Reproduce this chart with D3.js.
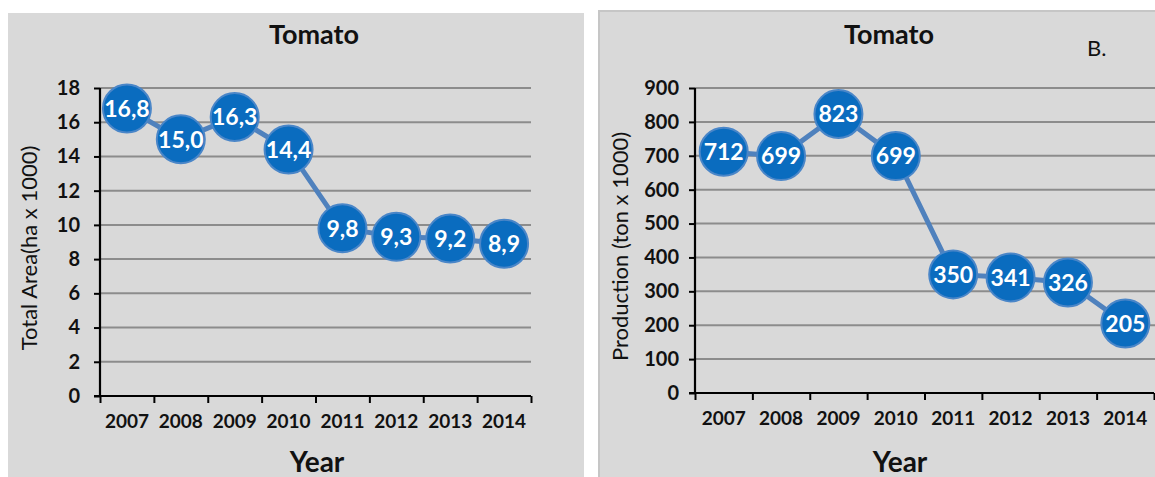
<!DOCTYPE html>
<html>
<head>
<meta charset="utf-8">
<script src="https://cdn.jsdelivr.net/npm/d3@7"></script>
<style>
  html, body { margin: 0; padding: 0; background: #ffffff; }
  svg { display: block; }
  text { font-family: Lato, "Open Sans", sans-serif; }
</style>
</head>
<body>
<svg id="chart" width="1155" height="477"></svg>
<script>
// Tomato: cultivated area and production, 2007–2014
const years = ["2007", "2008", "2009", "2010", "2011", "2012", "2013", "2014"];
const areaValues = [16.8, 15.0, 16.3, 14.4, 9.8, 9.3, 9.2, 8.9];
const productionValues = [712, 699, 823, 699, 350, 341, 326, 205];
const areaTicks = [0, 2, 4, 6, 8, 10, 12, 14, 16, 18];
const productionTicks = [0, 100, 200, 300, 400, 500, 600, 700, 800, 900];

const svg = d3.select("#chart");

function panel(opts) {
  const g = svg.append("g");

  // panel background
  g.append("rect")
    .attr("x", opts.box[0]).attr("y", opts.box[1])
    .attr("width", opts.box[2]).attr("height", opts.box[3])
    .attr("fill", "#d9d9d9")
    .attr("stroke", opts.border || "none")
    .attr("stroke-width", 2);

  const x0 = opts.plot.left, x1 = opts.plot.right;
  const y0 = opts.plot.top, y1 = opts.plot.bottom;

  const x = d3.scaleBand().domain(opts.categories).range([x0, x1]).padding(0);
  const xEdge = d3.scaleLinear().domain([0, opts.categories.length]).range([x0, x1]);
  const y = d3.scaleLinear().domain([0, d3.max(opts.ticks)]).range([y1, y0]);

  // horizontal gridlines
  g.append("g")
    .selectAll("line")
    .data(opts.ticks.filter(t => t > 0))
    .join("line")
    .attr("x1", x0).attr("x2", opts.gridEnd)
    .attr("y1", d => y(d)).attr("y2", d => y(d))
    .attr("stroke", "#8c8c8c")
    .attr("stroke-width", 2);

  // y axis
  const yAxis = g.append("g")
    .attr("transform", `translate(${x0},0)`)
    .call(d3.axisLeft(y).tickValues(opts.ticks).tickSize(6).tickPadding(opts.yPad));
  yAxis.select(".domain").attr("stroke", "#000").attr("stroke-width", 2.2)
    .attr("d", `M0,${y0}V${y1}`);
  yAxis.selectAll(".tick line").attr("stroke", "#000").attr("stroke-width", 2);
  yAxis.selectAll(".tick text")
    .style("font-family", "Lato, sans-serif")
    .style("font-size", "20px").style("font-weight", 700).attr("fill", "#111");

  // x axis: boundary ticks
  const xAxis = g.append("g")
    .attr("transform", `translate(0,${y1})`)
    .call(d3.axisBottom(xEdge).tickValues(d3.range(opts.categories.length + 1))
      .tickFormat("").tickSize(7));
  xAxis.select(".domain").attr("stroke", "#000").attr("stroke-width", 2.2)
    .attr("d", `M${x0 - 6},0H${x1}`);
  xAxis.selectAll(".tick line").attr("stroke", "#000").attr("stroke-width", 2);

  // x axis: category labels
  const xLab = g.append("g")
    .attr("transform", `translate(0,${y1})`)
    .call(d3.axisBottom(x).tickSize(0).tickPadding(19));
  xLab.select(".domain").remove();
  xLab.selectAll(".tick text")
    .style("font-family", "Lato, sans-serif")
    .style("font-size", "19px").style("font-weight", 700).attr("fill", "#111");

  // connecting line
  const pts = opts.categories.map((c, i) => [x(c) + x.bandwidth() / 2, y(opts.values[i])]);
  g.append("path")
    .attr("d", d3.line()(pts))
    .attr("fill", "none")
    .attr("stroke", "#4f81bd")
    .attr("stroke-width", 5);

  // markers
  const m = g.append("g").selectAll("g")
    .data(opts.values)
    .join("g")
    .attr("transform", (d, i) => `translate(${x(opts.categories[i]) + x.bandwidth() / 2},${y(d)})`);
  m.append("circle")
    .attr("r", 24)
    .attr("fill", "#0a6cbf")
    .attr("stroke", "#4a86c8")
    .attr("stroke-width", 2);
  m.append("text")
    .attr("text-anchor", "middle")
    .attr("dy", "0.36em")
    .style("font-size", "23px").style("font-weight", 700)
    .attr("fill", "#ffffff")
    .text(opts.format);

  // titles
  g.append("text")
    .attr("x", opts.titleX).attr("y", 44)
    .attr("text-anchor", "middle")
    .style("font-size", "27px").style("font-weight", 700).attr("fill", "#111")
    .text("Tomato");

  g.append("text")
    .attr("transform", `translate(${opts.yTitleX},${(y0 + y1) / 2 + 6}) rotate(-90)`)
    .attr("text-anchor", "middle")
    .style("font-size", "22px").attr("fill", "#111")
    .text(opts.yTitle);

  g.append("text")
    .attr("x", opts.xTitleX).attr("y", 472)
    .attr("text-anchor", "middle")
    .style("font-size", "28px").style("font-weight", 700).attr("fill", "#111")
    .text("Year");

  return g;
}

panel({
  box: [8, 13, 576, 470],
  plot: { left: 100, right: 531, top: 88, bottom: 396 },
  gridEnd: 531,
  categories: years,
  values: areaValues,
  ticks: areaTicks,
  format: d => d.toFixed(1).replace(".", ","),
  yPad: 14,
  titleX: 314,
  yTitle: "Total Area(ha x 1000)",
  yTitleX: 37,
  xTitleX: 317
});

const right = panel({
  box: [599, 11, 600, 470],
  border: "#c6c6c6",
  plot: { left: 695, right: 1154, top: 88, bottom: 393 },
  gridEnd: 1155,
  categories: years,
  values: productionValues,
  ticks: productionTicks,
  format: d => String(d),
  yPad: 10,
  titleX: 889,
  yTitle: "Production (ton x 1000)",
  yTitleX: 628,
  xTitleX: 900
});

right.append("text")
  .attr("x", 1087).attr("y", 56)
  .style("font-size", "22px").attr("fill", "#111")
  .text("B.");
</script>
</body>
</html>
